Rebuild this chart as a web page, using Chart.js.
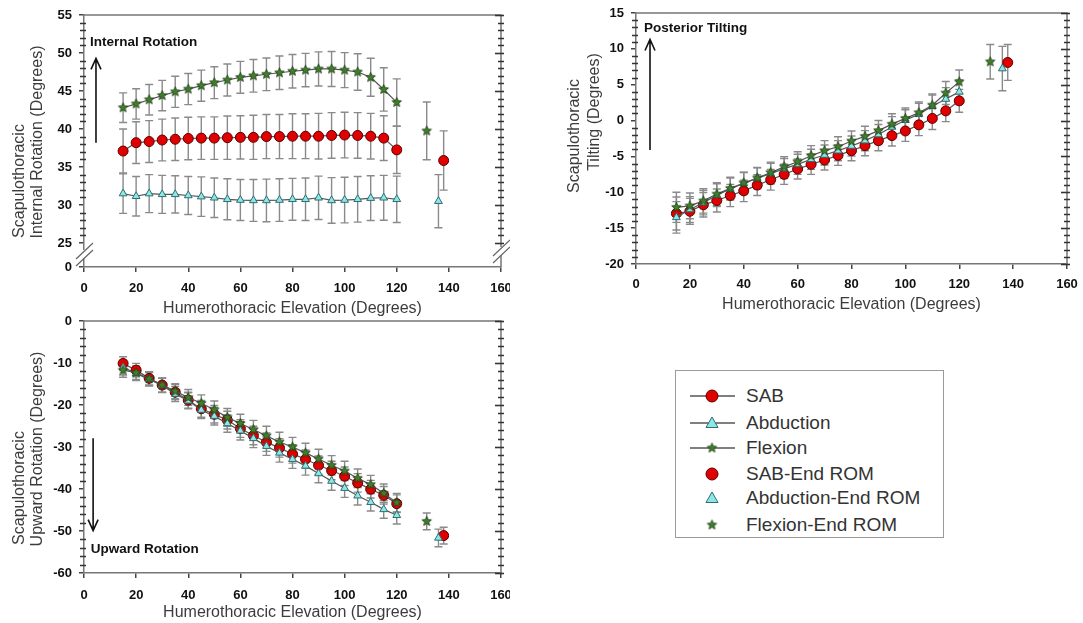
<!DOCTYPE html>
<html>
<head>
<meta charset="utf-8">
<script src="https://cdn.jsdelivr.net/npm/chart.js@4.4.0/dist/chart.umd.min.js"></script>
<style>
  body { margin: 0; background: #fff; width: 1083px; height: 623px; position: relative; overflow: hidden;
         font-family: Arial, "Liberation Sans", sans-serif; }
  canvas.plot { position: absolute; }
  #c1 { left: 0; top: 0; }
  #c2 { left: 560px; top: 0; }
  #c3 { left: 0; top: 310px; }
  #legend { position: absolute; left: 675px; top: 370px; width: 269px; height: 168px;
            border: 1px solid #9a9a9a; box-sizing: border-box; }
  .row { position: absolute; left: 0; height: 26px; width: 268px; }
  .row canvas { position: absolute; left: 14px; top: 3px; }
  .row span { position: absolute; left: 70px; top: 0; line-height: 26px; font-size: 19px; color: #333; }
</style>
</head>
<body>
<canvas id="c1" class="plot" width="510" height="320"></canvas>
<canvas id="c2" class="plot" width="523" height="320"></canvas>
<canvas id="c3" class="plot" width="510" height="313"></canvas>
<div id="legend"></div>

<script>
// humerothoracic elevation (deg) for the continuous curves
const elevation = [15, 20, 25, 30, 35, 40, 45, 50, 55, 60, 65, 70, 75, 80, 85, 90, 95, 100, 105, 110, 115, 120];
const endElevation = { flex: 131.5, abd: 136, sab: 138 };

// internal rotation
const irSab  = [37.1, 38.2, 38.35, 38.55, 38.65, 38.75, 38.8, 38.8, 38.85, 38.9, 38.9, 39.0, 39.0, 39.05, 39.05, 39.05, 39.15, 39.2, 39.15, 39.05, 38.8, 37.25];
const irAbd  = [31.5, 31.15, 31.5, 31.4, 31.4, 31.25, 31.1, 30.95, 30.75, 30.65, 30.6, 30.6, 30.65, 30.75, 30.75, 30.95, 30.6, 30.65, 30.75, 30.9, 30.95, 30.75];
const irFlex = [42.8, 43.3, 43.85, 44.4, 44.9, 45.25, 45.7, 46.1, 46.45, 46.8, 47.0, 47.2, 47.4, 47.6, 47.75, 47.9, 47.9, 47.75, 47.5, 46.8, 45.2, 43.5];
const irSabSd  = [2.9, 2.75, 2.75, 2.75, 2.8, 2.8, 2.8, 2.8, 2.85, 2.85, 2.9, 2.9, 2.9, 2.95, 2.95, 3.0, 3.0, 3.0, 3.0, 3.0, 2.95, 3.1];
const irAbdSd  = [2.6, 2.6, 2.5, 2.5, 2.45, 2.5, 2.6, 2.6, 2.7, 2.7, 2.75, 2.8, 2.8, 2.75, 2.8, 2.85, 3.0, 3.0, 3.0, 2.95, 2.95, 3.05];
const irFlexSd = [1.95, 2.0, 2.0, 2.0, 2.05, 2.05, 2.05, 2.1, 2.1, 2.1, 2.15, 2.15, 2.2, 2.2, 2.2, 2.25, 2.3, 2.3, 2.4, 2.5, 2.85, 3.1];
const irEnd   = { sab: 35.85, abd: 30.5, flex: 39.75 };
const irEndSd = { sab: 3.9, abd: 3.5, flex: 3.8 };

// posterior tilting
const tiltSab  = [-12.95, -12.65, -11.75, -11.15, -10.45, -9.8, -9.0, -8.25, -7.5, -6.75, -6.1, -5.5, -4.85, -4.2, -3.5, -2.8, -2.1, -1.45, -0.6, 0.3, 1.35, 2.75];
const tiltAbd  = [-13.5, -12.4, -11.45, -10.4, -9.55, -8.75, -8.05, -7.4, -6.7, -6.1, -5.4, -4.8, -4.2, -3.55, -2.8, -1.95, -0.9, 0.05, 0.9, 2.0, 3.0, 4.0];
const tiltFlex = [-12.1, -11.9, -11.2, -10.25, -9.45, -8.7, -8.0, -7.25, -6.45, -5.75, -4.9, -4.2, -3.65, -2.85, -2.2, -1.4, -0.5, 0.3, 1.1, 2.15, 3.85, 5.4];
const tiltSabSd  = [2.3, 1.8, 1.7, 1.6, 1.55, 1.5, 1.45, 1.45, 1.4, 1.4, 1.4, 1.4, 1.4, 1.4, 1.4, 1.4, 1.45, 1.45, 1.5, 1.55, 1.5, 1.6];
const tiltAbdSd  = [2.2, 1.8, 1.7, 1.6, 1.55, 1.5, 1.45, 1.45, 1.4, 1.4, 1.4, 1.4, 1.4, 1.4, 1.4, 1.4, 1.45, 1.45, 1.5, 1.55, 1.6, 1.65];
const tiltFlexSd = [2.1, 1.8, 1.7, 1.6, 1.55, 1.5, 1.45, 1.45, 1.4, 1.4, 1.4, 1.4, 1.4, 1.4, 1.4, 1.4, 1.45, 1.45, 1.5, 1.55, 1.6, 1.65];
const tiltEnd   = { sab: 8.1, abd: 7.25, flex: 8.2 };
const tiltEndSd = { sab: 2.5, abd: 3.1, flex: 2.4 };

// upward rotation
const urSab  = [-10.1, -11.7, -13.65, -15.25, -16.95, -18.85, -20.9, -22.2, -23.6, -25.6, -27.25, -28.85, -30.2, -31.65, -32.9, -34.35, -35.6, -36.95, -38.55, -40.05, -41.5, -43.5];
const urAbd  = [-11.05, -12.5, -13.9, -15.35, -17.4, -19.0, -21.2, -22.65, -24.4, -26.15, -27.95, -29.8, -31.4, -32.9, -34.5, -36.3, -38.1, -39.8, -41.6, -43.15, -44.85, -46.25];
const urFlex = [-11.7, -12.3, -13.75, -15.25, -16.7, -18.2, -19.6, -21.15, -22.95, -24.4, -25.85, -27.35, -28.8, -30.0, -31.4, -32.85, -34.35, -35.7, -37.45, -38.95, -41.0, -43.25];
const urSabSd  = [1.6, 1.6, 1.6, 1.7, 1.8, 1.9, 2.0, 2.1, 2.1, 2.1, 2.2, 2.2, 2.2, 2.2, 2.2, 2.2, 2.2, 2.2, 2.2, 2.1, 2.1, 2.1];
const urAbdSd  = [1.8, 1.7, 1.6, 1.7, 1.8, 1.9, 2.0, 2.1, 2.1, 2.2, 2.2, 2.2, 2.2, 2.2, 2.2, 2.2, 2.2, 2.2, 2.2, 2.1, 2.1, 2.1];
const urFlexSd = [1.7, 1.6, 1.6, 1.7, 1.8, 1.9, 2.0, 2.1, 2.1, 2.2, 2.2, 2.3, 2.3, 2.3, 2.3, 2.3, 2.3, 2.3, 2.2, 2.2, 2.2, 2.2];
const urEnd   = { sab: -51.1, abd: -51.65, flex: -47.7 };
const urEndSd = { sab: 2.0, abd: 2.1, flex: 2.0 };

const xTicks = [0, 20, 40, 60, 80, 100, 120, 140, 160];
const irTicks = [25, 30, 35, 40, 45, 50, 55];
const irBreakMin = 21.84; // bottom of broken axis, labelled "0"

const FONT = 'Arial, "Liberation Sans", sans-serif';
const RED = '#e00000', CYAN = '#8fe6e6', GREEN = '#3f7f2c';

function starImage(r) {
  const s = Math.ceil(r * 2 + 3);
  const c = document.createElement('canvas');
  c.width = c.height = s;
  const g = c.getContext('2d');
  g.beginPath();
  for (let i = 0; i < 10; i++) {
    const a = -Math.PI / 2 + i * Math.PI / 5;
    const rr = i % 2 ? r * 0.45 : r;
    g.lineTo(s / 2 + rr * Math.cos(a), s / 2 + rr * Math.sin(a));
  }
  g.closePath();
  g.fillStyle = GREEN; g.fill();
  g.strokeStyle = '#1c3a12'; g.lineWidth = 0.8; g.stroke();
  return c;
}
const star = starImage(5);

const pts = (ys) => elevation.map((x, i) => ({ x, y: ys[i] }));

function series(sab, abd, flex, sabSd, abdSd, flexSd, end, endSd) {
  const line = { borderColor: '#555', borderWidth: 1.2, tension: 0, fill: false };
  return [
    { ...line, data: pts(flex), sd: flexSd, pointStyle: star, pointRadius: 5 },
    { ...line, data: pts(abd), sd: abdSd, pointStyle: 'triangle', pointRadius: 4.5,
      pointBackgroundColor: CYAN, pointBorderColor: '#2d6f6f', pointBorderWidth: 1 },
    { ...line, data: pts(sab), sd: sabSd, pointStyle: 'circle', pointRadius: 5,
      pointBackgroundColor: RED, pointBorderColor: '#5a0000', pointBorderWidth: 1 },
    { data: [{ x: endElevation.flex, y: end.flex }], sd: [endSd.flex], showLine: false,
      pointStyle: star, pointRadius: 5 },
    { data: [{ x: endElevation.abd, y: end.abd }], sd: [endSd.abd], showLine: false,
      pointStyle: 'triangle', pointRadius: 4.5, pointBackgroundColor: CYAN, pointBorderColor: '#2d6f6f', pointBorderWidth: 1 },
    { data: [{ x: endElevation.sab, y: end.sab }], sd: [endSd.sab], showLine: false,
      pointStyle: 'circle', pointRadius: 5, pointBackgroundColor: RED, pointBorderColor: '#5a0000', pointBorderWidth: 1 }
  ];
}

const errorBars = {
  id: 'errorBars',
  beforeDatasetsDraw(chart) {
    const { ctx, scales: { y } } = chart;
    ctx.save();
    ctx.strokeStyle = '#8a8a8a';
    ctx.lineWidth = 1.4;
    chart.data.datasets.forEach((ds, i) => {
      if (!ds.sd) return;
      chart.getDatasetMeta(i).data.forEach((pt, j) => {
        const v = ds.data[j].y;
        const top = y.getPixelForValue(v + ds.sd[j]);
        const bot = y.getPixelForValue(v - ds.sd[j]);
        ctx.beginPath();
        ctx.moveTo(pt.x, top); ctx.lineTo(pt.x, bot);
        ctx.moveTo(pt.x - 4, top); ctx.lineTo(pt.x + 4, top);
        ctx.moveTo(pt.x - 4, bot); ctx.lineTo(pt.x + 4, bot);
        ctx.stroke();
      });
    });
    ctx.restore();
  }
};

const frame = {
  id: 'frame',
  afterDraw(chart, args, opts) {
    const { ctx, chartArea: a, scales: { y } } = chart;
    ctx.save();
    ctx.strokeStyle = '#777';
    ctx.lineWidth = 1.5;
    ctx.beginPath();
    ctx.moveTo(a.left, a.top); ctx.lineTo(a.right, a.top); ctx.lineTo(a.right, a.bottom);
    ctx.stroke();
    ctx.strokeStyle = '#333';
    ctx.lineWidth = 1.6;
    const lo = opts.minorFrom !== undefined ? opts.minorFrom : y.min;
    for (let v = lo; v <= y.max + 1e-6; v += opts.minor) {
      const p = Math.round(y.getPixelForValue(v)) + 0.5;
      const major = Math.abs(v / opts.major - Math.round(v / opts.major)) < 1e-6;
      ctx.beginPath();
      if (!major) { ctx.moveTo(a.left - 4, p); ctx.lineTo(a.left + 2, p); }
      ctx.moveTo(a.right - (major ? 6 : 3), p); ctx.lineTo(a.right + 3, p);
      ctx.stroke();
    }
    if (opts.axisBreak) {
      [a.left, a.right].forEach((xx, k) => {
        const c = a.bottom - (k ? 16 : 13);
        ctx.fillStyle = '#fff';
        ctx.fillRect(xx - 3, c - 4, 6, 8);
        ctx.strokeStyle = '#666';
        ctx.lineWidth = 1.2;
        ctx.beginPath();
        ctx.moveTo(xx - 8, c + 5); ctx.lineTo(xx + 9, c - 11);
        ctx.moveTo(xx - 8, c + 12); ctx.lineTo(xx + 9, c - 4);
        ctx.stroke();
      });
    }
    ctx.restore();
  }
};

const yTitle = {
  id: 'yTitle',
  afterDraw(chart, args, opts) {
    const ctx = chart.ctx;
    ctx.save();
    ctx.font = '16px ' + FONT;
    ctx.fillStyle = '#3c3c3c';
    ctx.textAlign = 'center';
    ctx.textBaseline = 'middle';
    opts.lines.forEach(l => {
      ctx.save();
      ctx.translate(l.x, l.y);
      ctx.rotate(-Math.PI / 2);
      ctx.fillText(l.text, 0, 0);
      ctx.restore();
    });
    ctx.restore();
  }
};

const note = {
  id: 'note',
  afterDraw(chart, args, opts) {
    const { ctx, scales: { x, y } } = chart;
    ctx.save();
    ctx.font = 'bold 13.5px ' + FONT;
    ctx.fillStyle = '#111';
    ctx.textBaseline = 'middle';
    ctx.fillText(opts.text, x.getPixelForValue(opts.tx), y.getPixelForValue(opts.ty));
    const ax = x.getPixelForValue(opts.ax);
    const y0 = y.getPixelForValue(opts.from), y1 = y.getPixelForValue(opts.to);
    const d = y1 < y0 ? 1 : -1;
    ctx.strokeStyle = '#111';
    ctx.lineWidth = 1.6;
    ctx.beginPath();
    ctx.moveTo(ax, y0); ctx.lineTo(ax, y1);
    ctx.moveTo(ax - 5, y1 + d * 11); ctx.lineTo(ax, y1); ctx.lineTo(ax + 5, y1 + d * 11);
    ctx.stroke();
    ctx.restore();
  }
};

function makeChart(id, datasets, o) {
  const tickFont = { family: FONT, size: 13, weight: 'bold' };
  const grid = { drawOnChartArea: false, tickLength: 5, color: '#444', lineWidth: 1.5 };
  const border = { color: '#777', width: 1.5 };
  return new Chart(document.getElementById(id), {
    type: 'line',
    data: { datasets },
    plugins: [errorBars, frame, yTitle, note],
    options: {
      responsive: false,
      animation: false,
      layout: { padding: { left: 0, top: o.top, right: o.right, bottom: 0 } },
      scales: {
        x: {
          type: 'linear', min: 0, max: 160,
          afterBuildTicks: s => { s.ticks = xTicks.map(v => ({ value: v })); },
          ticks: { color: '#111', font: tickFont, padding: o.xPad, maxRotation: 0 },
          grid, border,
          title: { display: true, text: 'Humerothoracic Elevation (Degrees)', color: '#3c3c3c',
                   font: { family: FONT, size: 16 }, padding: { top: 0, bottom: o.titlePad } },
          afterFit: s => { s.height = o.xHeight; s.paddingLeft = 0; s.paddingRight = 0; }
        },
        y: {
          min: o.yMin, max: o.yMax,
          afterBuildTicks: s => { s.ticks = o.yTicks.map(v => ({ value: v })); },
          ticks: { color: '#111', font: tickFont, padding: 7,
                   callback: v => (o.zeroAt !== undefined && v === o.zeroAt ? '0' : v) },
          grid, border,
          afterFit: s => { s.width = o.yWidth; s.paddingTop = 0; s.paddingBottom = 0; }
        }
      },
      plugins: {
        legend: { display: false },
        tooltip: { enabled: false },
        frame: o.frame,
        yTitle: { lines: o.yTitle },
        note: o.note
      }
    }
  });
}

makeChart('c1', series(irSab, irAbd, irFlex, irSabSd, irAbdSd, irFlexSd, irEnd, irEndSd), {
  top: 15, right: 9, xHeight: 53, yWidth: 84, titlePad: 2, xPad: 9,
  yMin: irBreakMin, yMax: 55, yTicks: [irBreakMin, ...irTicks], zeroAt: irBreakMin,
  frame: { minor: 1, major: 5, minorFrom: 25, axisBreak: true },
  yTitle: [{ text: 'Scapulothoracic', x: 20, y: 181 }, { text: 'Internal Rotation (Degrees)', x: 38, y: 142 }],
  note: { text: 'Internal Rotation', tx: 2.3, ty: 51.45, ax: 4.6, from: 38.2, to: 49.3 }
});

makeChart('c2', series(tiltSab, tiltAbd, tiltFlex, tiltSabSd, tiltAbdSd, tiltFlexSd, tiltEnd, tiltEndSd), {
  top: 13, right: 16, xHeight: 56, yWidth: 76, titlePad: 6, xPad: 8,
  yMin: -20, yMax: 15, yTicks: [-20, -15, -10, -5, 0, 5, 10, 15],
  frame: { minor: 1, major: 5 },
  yTitle: [{ text: 'Scapulothoracic', x: 15, y: 136 }, { text: 'Tilting (Degrees)', x: 35, y: 112 }],
  note: { text: 'Posterior Tilting', tx: 3, ty: 12.9, ax: 5.2, from: -4.1, to: 11.3 }
});

makeChart('c3', series(urSab, urAbd, urFlex, urSabSd, urAbdSd, urFlexSd, urEnd, urEndSd), {
  top: 11, right: 9, xHeight: 50, yWidth: 84, titlePad: 1, xPad: 10,
  yMin: -60, yMax: 0, yTicks: [-60, -50, -40, -30, -20, -10, 0],
  frame: { minor: 2, major: 10 },
  yTitle: [{ text: 'Scapulothoracic', x: 20, y: 178 }, { text: 'Upward Rotation (Degrees)', x: 38, y: 139 }],
  note: { text: 'Upward Rotation', tx: 2.6, ty: -54.4, ax: 3.5, from: -27.9, to: -49.9 }
});

// legend
const legendItems = [
  { label: 'SAB', marker: 'circle', line: true },
  { label: 'Abduction', marker: 'triangle', line: true },
  { label: 'Flexion', marker: 'star', line: true },
  { label: 'SAB-End ROM', marker: 'circle', line: false },
  { label: 'Abduction-End ROM', marker: 'triangle', line: false },
  { label: 'Flexion-End ROM', marker: 'star', line: false }
];
const legendRowCenters = [25, 52, 77, 103, 127, 154];
const legend = document.getElementById('legend');
legendItems.forEach((item, i) => {
  const row = document.createElement('div');
  row.className = 'row';
  row.style.top = (legendRowCenters[i] - 13) + 'px';
  const cv = document.createElement('canvas');
  cv.width = 48; cv.height = 20;
  const g = cv.getContext('2d');
  const cx = 22, cy = 10;
  if (item.line) {
    g.strokeStyle = '#555'; g.lineWidth = 1.3;
    g.beginPath(); g.moveTo(0, cy); g.lineTo(45, cy); g.stroke();
  }
  if (item.marker === 'circle') {
    g.beginPath(); g.arc(cx, cy, 6, 0, Math.PI * 2);
    g.fillStyle = RED; g.fill(); g.strokeStyle = '#5a0000'; g.lineWidth = 1; g.stroke();
  } else if (item.marker === 'triangle') {
    g.beginPath(); g.moveTo(cx, cy - 6); g.lineTo(cx + 6, cy + 4.5); g.lineTo(cx - 6, cy + 4.5); g.closePath();
    g.fillStyle = CYAN; g.fill(); g.strokeStyle = '#2d6f6f'; g.lineWidth = 1; g.stroke();
  } else {
    g.drawImage(star, cx - star.width / 2, cy - star.height / 2);
  }
  const span = document.createElement('span');
  span.textContent = item.label;
  row.appendChild(cv);
  row.appendChild(span);
  legend.appendChild(row);
});
</script>
</body>
</html>
